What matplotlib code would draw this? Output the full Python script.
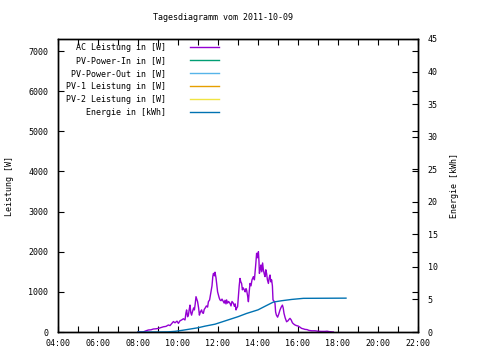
import numpy as np
import matplotlib
matplotlib.use('Agg')
from matplotlib import pyplot as plt
from matplotlib.ticker import MultipleLocator, FuncFormatter

plt.rcParams['font.family'] = ['DejaVu Sans Mono']
plt.rcParams['font.size'] = 6

# AC Leistung [W], Zeit in Stunden
ac_time = [8.00, 8.25, 8.40, 8.52, 8.65, 8.77, 8.90, 9.02, 9.15, 9.27, 9.40, 9.52,
           9.60, 9.70, 9.77, 9.85, 9.95, 10.02, 10.10, 10.18, 10.27, 10.35, 10.40,
           10.43, 10.48, 10.52, 10.56, 10.60, 10.64, 10.68, 10.72, 10.78, 10.82,
           10.86, 10.90, 10.94, 10.98, 11.03, 11.07, 11.12, 11.18, 11.22, 11.27,
           11.31, 11.35, 11.42, 11.48, 11.52, 11.58, 11.65, 11.70, 11.74, 11.77,
           11.82, 11.85, 11.90, 11.93, 11.98, 12.02, 12.06, 12.10, 12.15, 12.20,
           12.27, 12.31, 12.35, 12.40, 12.43, 12.48, 12.53, 12.60, 12.65, 12.70,
           12.77, 12.82, 12.86, 12.90, 12.94, 12.98, 13.02, 13.06, 13.10, 13.14,
           13.18, 13.22, 13.26, 13.32, 13.36, 13.40, 13.43, 13.48, 13.52, 13.56,
           13.60, 13.65, 13.70, 13.77, 13.82, 13.85, 13.89, 13.93, 13.97, 14.02,
           14.05, 14.07, 14.11, 14.15, 14.19, 14.23, 14.27, 14.31, 14.35, 14.39,
           14.43, 14.47, 14.52, 14.56, 14.60, 14.64, 14.68, 14.72, 14.75, 14.80,
           14.85, 14.88, 14.92, 14.98, 15.04, 15.10, 15.16, 15.22, 15.26, 15.30,
           15.36, 15.43, 15.50, 15.56, 15.60, 15.66, 15.72, 15.78, 15.85, 15.92,
           16.00, 16.10, 16.18, 16.26, 16.35, 16.45, 16.55, 16.68, 16.85, 17.00,
           17.15, 17.35, 17.45, 17.55, 17.77]
ac_watt = [0, 0, 30, 50, 55, 75, 80, 90, 110, 130, 140, 175,
           160, 220, 260, 230, 270, 215, 280, 300, 330, 300, 480,
           550, 380, 420, 560, 670, 480, 420, 500, 600, 550,
           700, 880, 820, 755, 600, 420, 500, 550, 480, 465,
           560, 590, 650, 620, 755, 800, 1000, 1150, 1380, 1460,
           1400, 1490, 1350, 1210, 1000, 920, 850, 800, 780, 820,
           755, 720, 790, 700, 800, 720, 760, 715, 650, 760,
           715, 640, 700, 550, 600, 630, 900, 1150, 1335, 1250,
           1210, 1050, 1100, 1045, 1000, 1080, 1045, 900, 755, 1000,
           1210, 1150, 1300, 1380, 1300, 1460, 1700, 1960, 1850, 2000,
           1750, 1460, 1550, 1670, 1500, 1720, 1545, 1450, 1380, 1550,
           1460, 1300, 1210, 1350, 1420, 1250, 1300, 1150, 800, 770,
           715, 500, 420, 370, 450, 550, 620, 670, 600, 465,
           350, 255, 280, 320, 340, 300, 230, 200, 175, 160,
           150, 120, 90, 80, 65, 60, 40, 30, 30, 20,
           15, 15, 20, 10, 0]

# Energie [kWh]
en_time = [8.00, 9.00, 9.50, 9.85, 10.20, 10.60, 11.00, 11.35, 11.85, 12.20,
           12.60, 13.00, 13.43, 14.00, 14.35, 14.77, 15.18, 15.68, 16.27, 18.40]
en_kwh = [0, 0, 0.02, 0.10, 0.25, 0.45, 0.65, 0.90, 1.20, 1.55,
          1.95, 2.35, 2.85, 3.40, 3.95, 4.60, 4.80, 5.00, 5.17, 5.20]

# keine Daten fuer diese Reihen
pv_in = []
pv_out = []
pv1 = []
pv2 = []

fig = plt.figure(figsize=(4.8, 3.6), dpi=100, facecolor='w')
ax = fig.add_axes([58/480, 28/360, 360/480, 293/360])
ax2 = ax.twinx()

l1, = ax.plot(ac_time, ac_watt, '-', color='#9400d3', lw=1.0, label='AC Leistung in [W]')
l2, = ax.plot(pv_in, pv_in, '-', color='#009e73', lw=1.0, label='PV-Power-In in [W]')
l3, = ax.plot(pv_out, pv_out, '-', color='#56b4e9', lw=1.0, label='PV-Power-Out in [W]')
l4, = ax.plot(pv1, pv1, '-', color='#e69f00', lw=1.0, label='PV-1 Leistung in [W]')
l5, = ax.plot(pv2, pv2, '-', color='#f0e442', lw=1.0, label='PV-2 Leistung in [W]')
l6, = ax2.plot(en_time, en_kwh, '-', color='#0072b2', lw=1.0, label='Energie in [kWh]')

ax.set_xlim(4, 22)
ax.set_ylim(0, 7300)
ax2.set_ylim(0, 45)
ax.xaxis.set_major_locator(MultipleLocator(2))
ax.xaxis.set_minor_locator(MultipleLocator(1))
ax.xaxis.set_major_formatter(FuncFormatter(lambda v, p: '%02d:00' % v))
ax.yaxis.set_major_locator(MultipleLocator(1000))
ax2.yaxis.set_major_locator(MultipleLocator(5))

ax.tick_params(which='both', direction='in', length=4, width=0.8, top=True, right=True, pad=7)
ax.tick_params(axis='x', which='both', pad=5)
ax.tick_params(axis='x', which='minor', length=4)
ax2.tick_params(direction='in', length=4, width=0.8, pad=7)
for a in (ax, ax2):
    for s in a.spines.values():
        s.set_linewidth(1.0)

ax.set_ylabel('Leistung [W]', labelpad=10)
ax2.set_ylabel('Energie [kWh]', labelpad=9)
fig.text(223/480, 1 - 18/360, 'Tagesdiagramm vom 2011-10-09', ha='center', va='center')

ax2.legend([l1, l2, l3, l4, l5, l6], [l.get_label() for l in (l1, l2, l3, l4, l5, l6)],
           loc='upper left', bbox_to_anchor=(0.011, 1.0), frameon=False, markerfirst=False,
           handlelength=3.4, handletextpad=2.9, labelspacing=0.47,
           borderaxespad=0.2, borderpad=0.3, fontsize=6)

plt.savefig('out.png', dpi=100)
